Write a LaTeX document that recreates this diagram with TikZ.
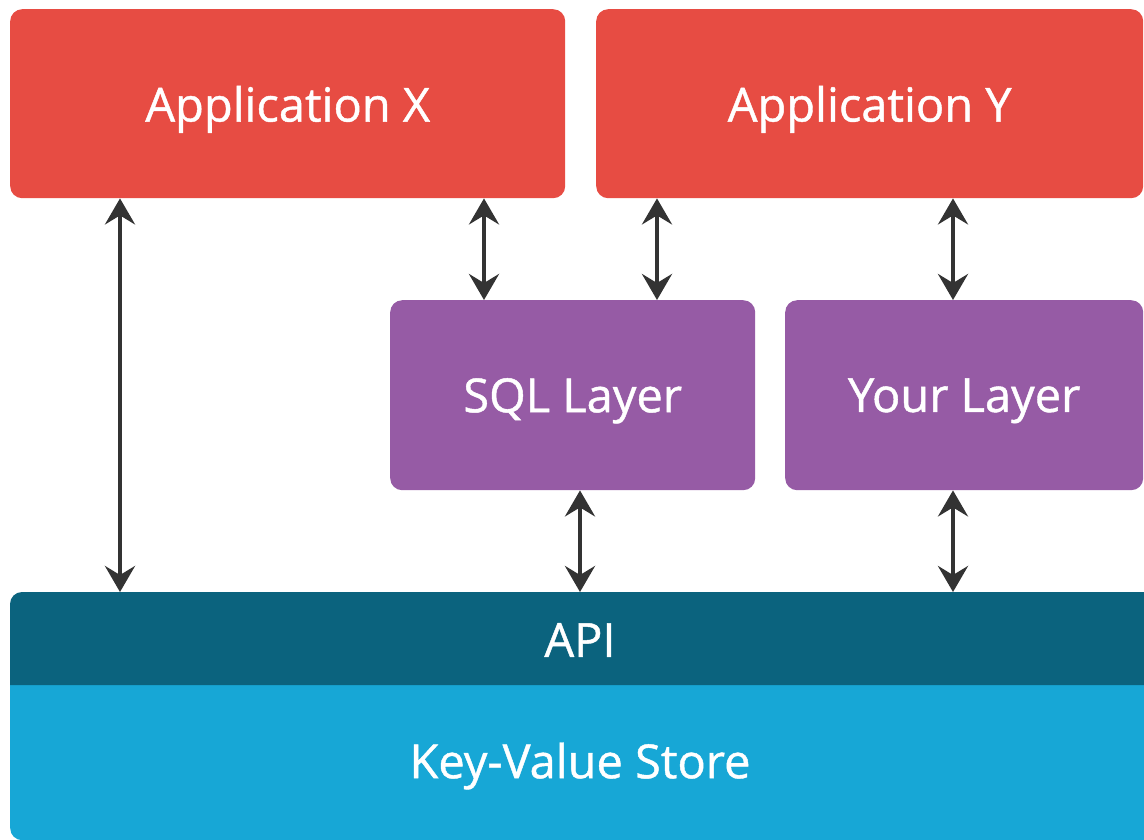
\documentclass[tikz,border=0pt]{standalone}
\usepackage{fontspec}
\setmainfont{Open Sans}
\newfontfamily\labelfont{Open Sans}[FakeBold=0.9]
\usetikzlibrary{arrows.meta}
\definecolor{appred}{HTML}{E74C43}
\definecolor{layerpurple}{HTML}{965BA5}
\definecolor{apiteal}{HTML}{0B637E}
\definecolor{kvblue}{HTML}{17A7D6}
\definecolor{arrowgray}{HTML}{333333}
\tikzset{
  lbl/.style={text=white, font=\labelfont\fontsize{47}{50}\selectfont},
  box/.style={rectangle, rounded corners=12pt, inner sep=0pt, lbl, text depth=0pt},
  link/.style={draw=arrowgray, line width=4pt,
    {Stealth[length=26pt,width=30pt,inset=9pt]}-{Stealth[length=26pt,width=30pt,inset=9pt]}}
}
\begin{document}
\begin{tikzpicture}[x=1pt,y=-1pt]
\useasboundingbox (0,0) rectangle (1144,839);
\clip (0,0) rectangle (1144,839);
% store layers
\node[box, fill=kvblue, anchor=north west, minimum width=1150pt, minimum height=170pt] (kv) at (10,670) {};
\fill[apiteal, rounded corners=12pt] (10,685) -- (10,592) -- (1160,592) -- (1160,685) [sharp corners] -- cycle;
\node[box, fill=none, anchor=north west, minimum width=1150pt, minimum height=93pt] (api) at (10,592) {};
\node[lbl] (apitext) at (580,640) {API};
\node[lbl] (kvtext) at (580,766) {Key-Value Store};
% applications
\node[box, fill=appred, anchor=north west, minimum width=555pt, minimum height=189pt] (appx) at (10,9) {Application X};
\node[box, fill=appred, anchor=north west, minimum width=547pt, minimum height=189pt] (appy) at (596,9) {Application Y};
% layers
\node[box, fill=layerpurple, anchor=north west, minimum width=365pt, minimum height=190pt] (sql) at (390,300) {SQL Layer};
\node[box, fill=layerpurple, anchor=north west, minimum width=358pt, minimum height=190pt] (your) at (785,300) {Your Layer};
% arrow columns
\coordinate (c1) at (120,0);
\coordinate (c2) at (484,0);
\coordinate (c3) at (657,0);
\coordinate (c4) at (953,0);
\coordinate (c5) at (580,0);
\draw[link] (appx.south -| c1) -- (api.north -| c1);
\draw[link] (appx.south -| c2) -- (sql.north -| c2);
\draw[link] (appy.south -| c3) -- (sql.north -| c3);
\draw[link] (appy.south -| c4) -- (your.north -| c4);
\draw[link] (sql.south -| c5) -- (api.north -| c5);
\draw[link] (your.south -| c4) -- (api.north -| c4);
\end{tikzpicture}
\end{document}
